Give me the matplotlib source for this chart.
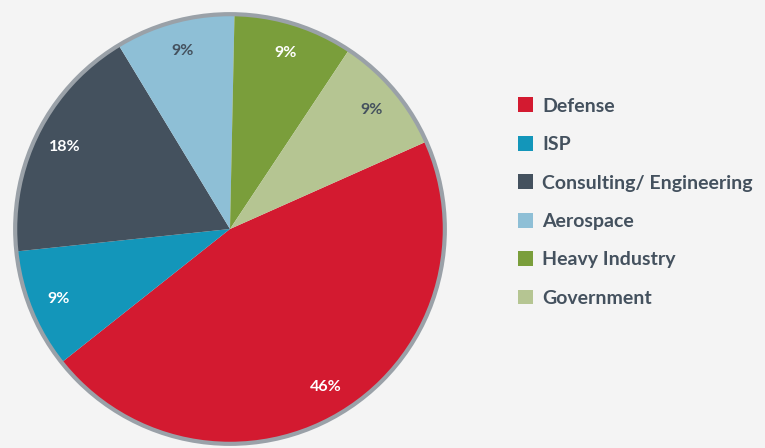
import matplotlib
matplotlib.use('Agg')
import matplotlib.pyplot as plt
from matplotlib.patches import Circle

# Data
labels = ['Defense', 'ISP', 'Consulting/ Engineering', 'Aerospace', 'Heavy Industry', 'Government']
shares = [46, 9, 18, 9, 9, 9]
colors = ['#d31a30', '#1396ba', '#44515e', '#8ebfd6', '#7a9e3b', '#b5c592']
pct_colors = ['white', 'white', 'white', '#44515e', 'white', '#44515e']

bg = '#f4f4f4'
text_dark = '#44515e'

fig = plt.figure(figsize=(7.65, 4.48), dpi=100, facecolor=bg)

# pie axes: centre ~ (230, 229) px, radius ~ 217 px
W, H = 765, 448
cx, cy, r = 230, 229, 217
ax = fig.add_axes([(cx - r) / W, (H - cy - r) / H, 2 * r / W, 2 * r / H])
ax.set_facecolor(bg)

wedges, texts, autotexts = ax.pie(
    shares, colors=colors, startangle=24, counterclock=False,
    radius=0.99, autopct='%d%%', pctdistance=0.86,
    wedgeprops=dict(linewidth=0),
    textprops=dict(fontsize=11.5, fontweight='bold', family='Lato'))
for t, c in zip(autotexts, pct_colors):
    t.set_color(c)

ax.add_patch(Circle((0, 0), 0.99, fill=False, edgecolor='#9aa1a8', linewidth=3))
ax.set_xlim(-1.0, 1.0)
ax.set_ylim(-1.0, 1.0)
ax.set_aspect('auto')
ax.axis('off')

leg = fig.legend(wedges, labels, loc='upper left',
                 bbox_to_anchor=(500 / W, 1 - 80 / H),
                 frameon=False, handlelength=0.78, handleheight=0.78,
                 handletextpad=0.5, labelspacing=1.1,
                 prop=dict(family='Lato', weight='bold', size=14))
for t in leg.get_texts():
    t.set_color(text_dark)

fig.savefig('out.png', dpi=100, facecolor=bg)
